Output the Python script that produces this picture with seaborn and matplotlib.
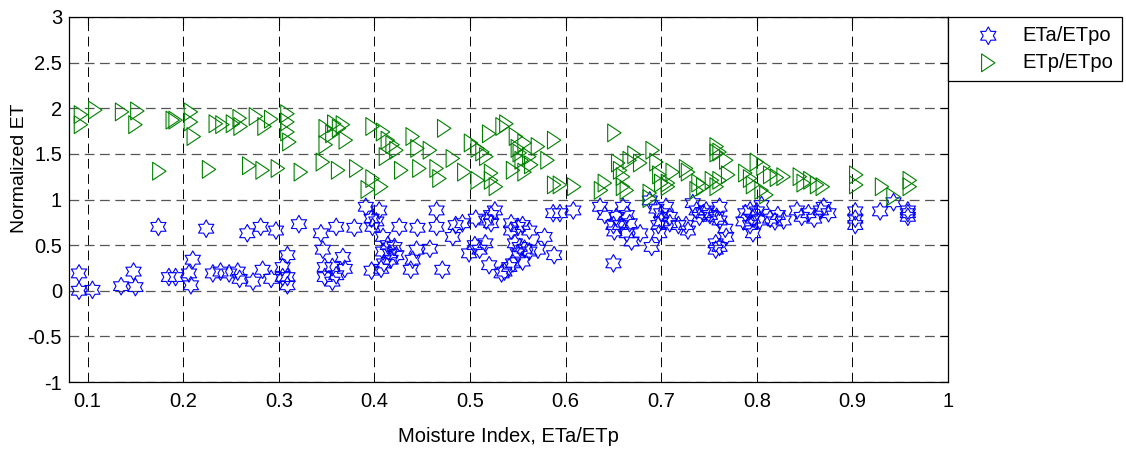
import numpy as np
import matplotlib
matplotlib.use("Agg")
import matplotlib.pyplot as plt
from matplotlib.path import Path
import seaborn as sns

# ETa/ETpo versus moisture index
eta_x = [0.174, 0.091, 0.091, 0.105, 0.135, 0.148, 0.150, 0.185, 0.192, 0.210, 0.206, 0.208,
         0.224, 0.267, 0.281, 0.297, 0.321, 0.344, 0.346, 0.348, 0.231, 0.239, 0.248, 0.257,
         0.259, 0.273, 0.283, 0.292, 0.304, 0.309, 0.309, 0.309, 0.304, 0.348,
         0.391, 0.405, 0.397, 0.402, 0.398, 0.360, 0.379, 0.426, 0.445, 0.465, 0.465, 0.482,
         0.485, 0.409, 0.414, 0.421, 0.409, 0.416, 0.423, 0.410, 0.417, 0.440, 0.444, 0.458,
         0.438, 0.407, 0.397, 0.471, 0.356, 0.367, 0.369, 0.360, 0.356,
         0.587, 0.594, 0.608, 0.492, 0.506, 0.517, 0.522, 0.526, 0.522, 0.543, 0.550, 0.555,
         0.562, 0.543, 0.578, 0.547, 0.552, 0.557, 0.550, 0.562, 0.571, 0.555, 0.545, 0.588,
         0.505, 0.516, 0.499, 0.510, 0.520, 0.536, 0.533, 0.541,
         0.650, 0.636, 0.641, 0.653, 0.660, 0.664, 0.650, 0.657, 0.667, 0.651, 0.664, 0.669,
         0.678, 0.690, 0.698, 0.688, 0.695, 0.700, 0.705, 0.709, 0.700, 0.709, 0.718, 0.697,
         0.726, 0.728, 0.733, 0.737, 0.744, 0.740, 0.751, 0.747, 0.758, 0.757, 0.757,
         0.761, 0.761, 0.767, 0.768, 0.761, 0.788, 0.793, 0.796, 0.786, 0.793, 0.796, 0.800,
         0.805, 0.803, 0.814, 0.819, 0.828, 0.822, 0.842, 0.847, 0.854, 0.860, 0.867, 0.870,
         0.875, 0.903, 0.903, 0.903, 0.929, 0.943, 0.958, 0.958, 0.958]
eta_y = [0.70, 0.19, 0.00, 0.01, 0.05, 0.21, 0.04, 0.15, 0.15, 0.34, 0.19, 0.06,
         0.68, 0.63, 0.70, 0.66, 0.73, 0.63, 0.45, 0.26, 0.19, 0.21, 0.19, 0.21,
         0.13, 0.10, 0.23, 0.13, 0.26, 0.39, 0.15, 0.06, 0.15, 0.15,
         0.92, 0.88, 0.79, 0.76, 0.70, 0.70, 0.69, 0.70, 0.69, 0.88, 0.70, 0.59,
         0.72, 0.59, 0.50, 0.48, 0.43, 0.41, 0.39, 0.30, 0.34, 0.34, 0.45, 0.46,
         0.23, 0.24, 0.22, 0.23, 0.26, 0.37, 0.24, 0.17, 0.10,
         0.85, 0.85, 0.88, 0.74, 0.79, 0.77, 0.83, 0.88, 0.74, 0.74, 0.70, 0.72,
         0.66, 0.66, 0.59, 0.52, 0.48, 0.46, 0.41, 0.43, 0.45, 0.32, 0.30, 0.39,
         0.50, 0.52, 0.41, 0.45, 0.28, 0.21, 0.19, 0.26,
         0.30, 0.92, 0.83, 0.81, 0.92, 0.83, 0.72, 0.72, 0.74, 0.65, 0.63, 0.54,
         0.63, 0.48, 0.63, 0.99, 0.90, 0.85, 0.92, 0.81, 0.76, 0.74, 0.72, 0.72,
         0.72, 0.66, 0.96, 0.88, 0.85, 0.81, 0.83, 0.88, 0.81, 0.52, 0.45,
         0.92, 0.77, 0.68, 0.59, 0.48, 0.85, 0.88, 0.79, 0.76, 0.72, 0.63, 0.87,
         0.94, 0.77, 0.79, 0.76, 0.77, 0.83, 0.88, 0.81, 0.85, 0.79, 0.88, 0.92,
         0.85, 0.87, 0.79, 0.72, 0.87, 0.97, 0.88, 0.81, 0.85]

# ETp/ETpo versus moisture index
etp_x = [0.093, 0.093, 0.108, 0.136, 0.152, 0.150, 0.189, 0.192, 0.175, 0.208, 0.208, 0.211,
         0.227, 0.234, 0.241, 0.252, 0.259, 0.260, 0.276, 0.285, 0.292, 0.309, 0.309, 0.309,
         0.311, 0.269, 0.283, 0.299, 0.323, 0.346, 0.349, 0.349,
         0.358, 0.363, 0.367, 0.370, 0.356, 0.362, 0.381, 0.398, 0.409, 0.414, 0.419, 0.423,
         0.412, 0.398, 0.393, 0.407, 0.428, 0.440, 0.445, 0.447, 0.458, 0.465, 0.468, 0.473,
         0.482,
         0.538, 0.534, 0.520, 0.501, 0.508, 0.513, 0.517, 0.494, 0.508, 0.522, 0.522, 0.527,
         0.548, 0.550, 0.552, 0.557, 0.562, 0.554, 0.545, 0.557, 0.564, 0.571, 0.581, 0.588,
         0.588, 0.594, 0.609,
         0.651, 0.655, 0.657, 0.660, 0.667, 0.672, 0.678, 0.641, 0.637, 0.660, 0.664, 0.691,
         0.695, 0.698, 0.700, 0.707, 0.688, 0.688, 0.712, 0.707, 0.726, 0.728, 0.739, 0.744,
         0.737, 0.753, 0.758, 0.758, 0.758,
         0.761, 0.768, 0.770, 0.761, 0.800, 0.807, 0.788, 0.793, 0.796, 0.805, 0.814, 0.821,
         0.828, 0.845, 0.849, 0.856, 0.863, 0.869, 0.810,
         0.904, 0.904, 0.931, 0.943, 0.960, 0.960]
etp_y = [1.93, 1.82, 1.98, 1.96, 1.97, 1.82, 1.87, 1.87, 1.31, 1.96, 1.85, 1.69,
         1.33, 1.83, 1.82, 1.83, 1.89, 1.80, 1.91, 1.80, 1.88, 1.94, 1.85, 1.74,
         1.63, 1.37, 1.32, 1.34, 1.30, 1.41, 1.78, 1.60,
         1.83, 1.78, 1.82, 1.65, 1.72, 1.32, 1.34, 1.80, 1.74, 1.65, 1.60, 1.54,
         1.47, 1.23, 1.11, 1.14, 1.32, 1.69, 1.56, 1.34, 1.54, 1.34, 1.23, 1.78,
         1.45,
         1.83, 1.80, 1.72, 1.62, 1.56, 1.52, 1.47, 1.30, 1.21, 1.29, 1.21, 1.14,
         1.69, 1.56, 1.51, 1.62, 1.47, 1.43, 1.32, 1.30, 1.38, 1.58, 1.43, 1.65,
         1.16, 1.16, 1.14,
         1.73, 1.40, 1.32, 1.25, 1.43, 1.49, 1.40, 1.18, 1.10, 1.14, 1.10, 1.54,
         1.41, 1.27, 1.18, 1.14, 1.07, 1.01, 1.30, 1.18, 1.34, 1.30, 1.18, 1.14,
         1.10, 1.21, 1.14, 1.58, 1.51,
         1.52, 1.43, 1.27, 1.21, 1.41, 1.36, 1.29, 1.23, 1.16, 1.10, 1.27, 1.24,
         1.25, 1.25, 1.18, 1.21, 1.16, 1.14, 1.05,
         1.27, 1.16, 1.14, 1.03, 1.21, 1.14]

x_ticks = [0.1, 0.2, 0.3, 0.4, 0.5, 0.6, 0.7, 0.8, 0.9, 1.0]
x_tick_labels = ["0.1", "0.2", "0.3", "0.4", "0.5", "0.6", "0.7", "0.8", "0.9", "1"]
y_ticks = [-1, -0.5, 0, 0.5, 1, 1.5, 2, 2.5, 3]
y_tick_labels = ["-1", "-0.5", "0", "0.5", "1", "1.5", "2", "2.5", "3"]

sns.set_style("white")
plt.rcParams["font.family"] = ["Liberation Sans", "DejaVu Sans"]
plt.rcParams["lines.scale_dashes"] = False
plt.rcParams["text.color"] = "black"
plt.rcParams["axes.labelcolor"] = "black"

# six-pointed star (points up and down) and a narrow right-pointing triangle
ang = np.deg2rad(90 + 30 * np.arange(12))
rad = np.where(np.arange(12) % 2 == 0, 1.0, 1 / np.sqrt(3))
star_verts = np.column_stack([rad * np.cos(ang), rad * np.sin(ang)])
hexagram = Path(np.vstack([star_verts, star_verts[:1]]), closed=True)
tri_right = Path([(-0.75, 1.0), (0.75, 0.0), (-0.75, -1.0), (-0.75, 1.0)], closed=True)

fig = plt.figure(figsize=(11.26, 4.5), dpi=100)
ax = fig.add_axes([69 / 1126, 68 / 450, 879 / 1126, 365 / 450])

sns.scatterplot(x=eta_x, y=eta_y, marker=hexagram, s=160, color="#0000ff",
                facecolor="none", edgecolor="#0000ff", linewidth=0.8,
                label="ETa/ETpo", ax=ax, zorder=3)
sns.scatterplot(x=etp_x, y=etp_y, marker=tri_right, s=165, color="#008000",
                facecolor="none", edgecolor="#008000", linewidth=0.8,
                label="ETp/ETpo", ax=ax, zorder=3)

ax.set_xlim(0.0805, 1.0)
ax.set_ylim(-1, 3)
ax.set_xticks(x_ticks)
ax.set_xticklabels(x_tick_labels)
ax.set_yticks(y_ticks)
ax.set_yticklabels(y_tick_labels)
ax.tick_params(direction="in", length=6, width=0.8, top=True, right=True,
               labelsize=14.5, colors="black")
ax.tick_params(axis="x", pad=7)
ax.tick_params(axis="y", pad=5)

# dashed grid: vertical lines black, horizontal lines a softer dark grey
ax.set_axisbelow(True)
ax.grid(True, axis="x", color="black", linestyle=(0, (7, 4)), linewidth=0.7)
ax.grid(True, axis="y", color="#555555", linestyle=(0, (7, 4)), linewidth=0.9)
for sp in ax.spines.values():
    sp.set_color("black")
    sp.set_linewidth(0.9)

ax.set_xlabel("Moisture Index, ETa/ETp", fontsize=14.5, labelpad=12)
ax.set_ylabel("Normalized ET", fontsize=14)
ax.yaxis.set_label_coords(-0.047, 0.585)

leg = ax.legend(loc="upper left", bbox_to_anchor=(1.0, 1.0), frameon=True,
                fancybox=False, edgecolor="black", framealpha=1, borderpad=0.45,
                labelspacing=0.4, handlelength=3.1, handletextpad=0.15,
                borderaxespad=0, fontsize=14.5, scatterpoints=1)
leg.get_frame().set_linewidth(0.9)

fig.savefig("out.png", dpi=100, facecolor="white")
